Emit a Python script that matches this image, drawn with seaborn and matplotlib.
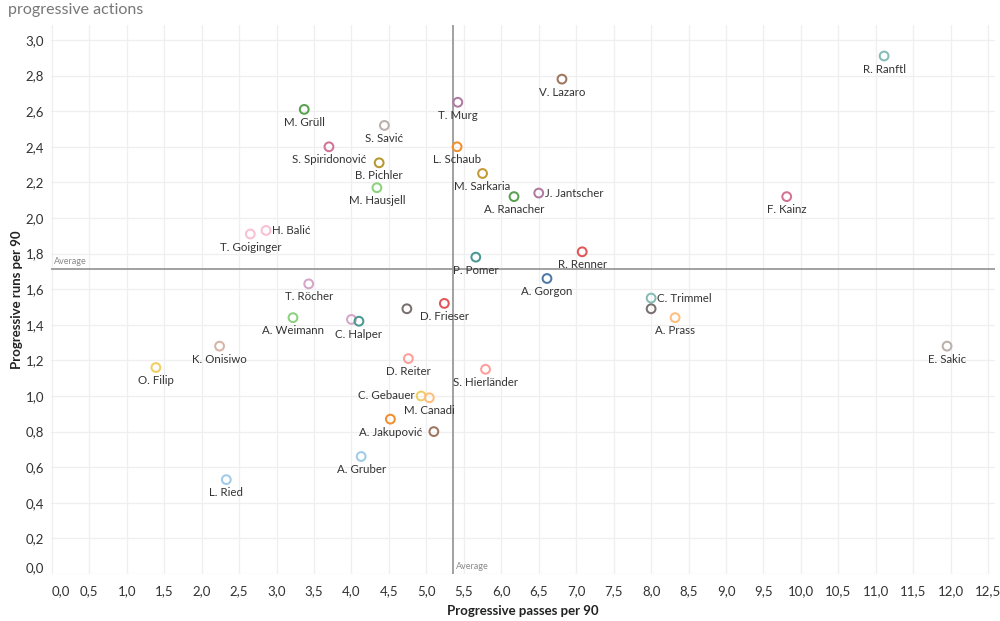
import numpy as np
import pandas as pd
import matplotlib
matplotlib.use("Agg")
import matplotlib.pyplot as plt
import matplotlib.transforms as mtransforms
import seaborn as sns

players = ["R. Ranftl", "V. Lazaro", "T. Murg", "M. Grüll", "S. Savić", "S. Spiridonović",
           "L. Schaub", "B. Pichler", "M. Sarkaria", "M. Hausjell", "A. Ranacher", "J. Jantscher",
           "F. Kainz", "H. Balić", "T. Goiginger", "P. Pomer", "R. Renner", "A. Gorgon",
           "T. Röcher", "C. Trimmel", "", "A. Prass", "D. Frieser", "", "A. Weimann", "",
           "C. Halper", "K. Onisiwo", "E. Sakic", "D. Reiter", "S. Hierländer", "O. Filip",
           "C. Gebauer", "M. Canadi", "A. Jakupović", "", "A. Gruber", "L. Ried"]
prog_passes = [11.11, 6.81, 5.42, 3.37, 4.44, 3.70, 5.41, 4.37, 5.75, 4.34, 6.17, 6.50,
               9.81, 2.86, 2.65, 5.66, 7.08, 6.61, 3.43, 8.00, 8.00, 8.32, 5.24, 4.74,
               3.22, 4.00, 4.10, 2.24, 11.95, 4.76, 5.79, 1.39, 4.93, 5.04, 4.52, 5.10,
               4.13, 2.33]
prog_runs = [2.91, 2.78, 2.65, 2.61, 2.52, 2.40, 2.40, 2.31, 2.25, 2.17, 2.12, 2.14,
             2.12, 1.93, 1.91, 1.78, 1.81, 1.66, 1.63, 1.55, 1.49, 1.44, 1.52, 1.49,
             1.44, 1.43, 1.42, 1.28, 1.28, 1.21, 1.15, 1.16, 1.00, 0.99, 0.87, 0.80,
             0.66, 0.53]
colors = ["#86bcb6", "#9d7660", "#b07aa1", "#59a14f", "#bab0ac", "#d37295",
          "#f28e2b", "#b6992d", "#c49a35", "#8cd17d", "#59a14f", "#b07aa1",
          "#d37295", "#fabfd2", "#fabfd2", "#499894", "#e15759", "#4e79a7",
          "#d4a6c8", "#86bcb6", "#79706e", "#ffbe7d", "#e15759", "#79706e",
          "#8cd17d", "#d4a6c8", "#499894", "#d7b5a6", "#bab0ac", "#ff9d9a",
          "#ff9d9a", "#f1ce63", "#f1ce63", "#ffbe7d", "#f28e2b", "#9d7660",
          "#a0cbe8", "#a0cbe8"]
label_side = {"H. Balić": "right", "J. Jantscher": "right", "C. Trimmel": "right",
              "C. Gebauer": "left"}

avg_passes = 5.36
avg_runs = 1.713
x_ticks = np.arange(0, 12.51, 0.5)
y_ticks = np.arange(0, 3.01, 0.2)

df = pd.DataFrame({"id": range(len(players)), "player": players,
                   "passes": prog_passes, "runs": prog_runs})

sns.set_theme(style="white")
plt.rcParams['font.family'] = ['Lato', 'DejaVu Sans']

fig = plt.figure(figsize=(10, 6.21), dpi=100)
ax = fig.add_axes([0.051, 0.0757, 0.944, 0.884])

sns.scatterplot(data=df, x="passes", y="runs", hue="id", palette=colors,
                legend=False, s=40, linewidth=1.45, ax=ax, zorder=3)
coll = ax.collections[0]
fc = coll.get_facecolors()
coll.set_edgecolors(fc)
coll.set_facecolors("none")

for name, xv, yv in zip(players, prog_passes, prog_runs):
    if not name:
        continue
    side = label_side.get(name, "below")
    if side == "below":
        ax.annotate(name, (xv, yv), xytext=(0, -5.5), textcoords="offset points",
                    ha="center", va="top", fontsize=8.3, color="#333333", zorder=4)
    elif side == "right":
        ax.annotate(name, (xv, yv), xytext=(4.5, 0), textcoords="offset points",
                    ha="left", va="center", fontsize=8.3, color="#333333", zorder=4)
    else:
        ax.annotate(name, (xv, yv), xytext=(-4.5, 0), textcoords="offset points",
                    ha="right", va="center", fontsize=8.3, color="#333333", zorder=4)

ax.axhline(avg_runs, color="#9a9a9a", lw=1.3, zorder=2)
ax.axvline(avg_passes, color="#9a9a9a", lw=1.3, zorder=2)
ax.text(0.03, avg_runs + 0.015, "Average", fontsize=6.5, color="#8a8a8a",
        ha="left", va="bottom")
ax.text(avg_passes + 0.04, 0.015, "Average", fontsize=6.5, color="#8a8a8a",
        ha="left", va="bottom")

ax.set_xlim(-0.01, 12.59)
ax.set_ylim(0, 3.084)
ax.set_xticks(x_ticks)
ax.set_yticks(y_ticks)
ax.set_xticklabels([f"{v:.1f}".replace(".", ",") for v in x_ticks])
ax.set_yticklabels([f"{v:.1f}".replace(".", ",") for v in y_ticks])
xl = ax.get_xticklabels()
xl[0].set_ha("left")
shift = mtransforms.ScaledTranslation(-6 / 100, 0, fig.dpi_scale_trans)
xl[-1].set_transform(xl[-1].get_transform() + shift)
ax.get_yticklabels()[0].set_va("bottom")
ax.tick_params(axis="both", length=0, labelsize=9.5, colors="#333333")
ax.tick_params(axis="x", pad=8)
ax.tick_params(axis="y", pad=5)
ax.grid(True, color="#efefef", lw=0.9, zorder=0)
ax.set_axisbelow(True)
for s in ax.spines.values():
    s.set_visible(False)

ax.set_xlabel("Progressive passes per 90", fontsize=9.5, fontweight="bold",
              color="#222222", labelpad=6)
ax.set_ylabel("Progressive runs per 90", fontsize=9.5, fontweight="bold",
              color="#222222", labelpad=2)

fig.text(0.008, 0.995, "progressive actions", fontsize=11.5, color="#777777",
         ha="left", va="top")

fig.savefig("out.png", dpi=100)
